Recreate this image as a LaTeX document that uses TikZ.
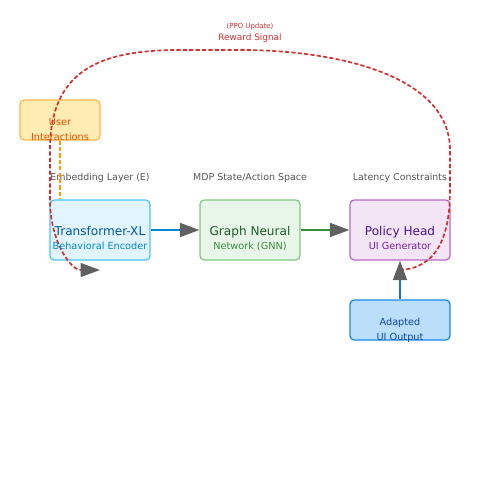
\documentclass[tikz,border=0pt]{standalone}
\usepackage{fontspec}
\setmainfont{DejaVu Sans}
\usetikzlibrary{arrows.meta}
\definecolor{uFill}{HTML}{FFECB3}\definecolor{uEdge}{HTML}{FFB74D}\definecolor{uText}{HTML}{E65100}
\definecolor{tFill}{HTML}{E1F5FE}\definecolor{tEdge}{HTML}{4FC3F7}\definecolor{tTitle}{HTML}{01579B}\definecolor{tSub}{HTML}{0288D1}
\definecolor{gFill}{HTML}{E8F5E9}\definecolor{gEdge}{HTML}{81C784}\definecolor{gTitle}{HTML}{1B5E20}\definecolor{gSub}{HTML}{388E3C}
\definecolor{pFill}{HTML}{F3E5F5}\definecolor{pEdge}{HTML}{BA68C8}\definecolor{pTitle}{HTML}{4A148C}\definecolor{pSub}{HTML}{7B1FA2}
\definecolor{aFill}{HTML}{BBDEFB}\definecolor{aEdge}{HTML}{1E88E5}\definecolor{aText}{HTML}{0D47A1}
\definecolor{rewardRed}{HTML}{D32F2F}\definecolor{dashOrange}{HTML}{FF9800}
\definecolor{headGray}{HTML}{606060}\definecolor{labGray}{HTML}{555555}
\definecolor{lineBlue}{HTML}{0288D1}\definecolor{lineBlue2}{HTML}{1976D2}\definecolor{lineGreen}{HTML}{388E3C}
\tikzset{
  box/.style={rounded corners=3pt, line width=0.9pt, inner sep=0pt},
  txt/.style={anchor=base, inner sep=0pt},
  tag/.style={txt, font=\fontsize{6.8}{8}\selectfont, text=labGray},
  flow/.style={line width=1.4pt, -{Triangle[length=14pt,width=10pt,color=headGray]}},
  fb/.style={line width=1.2pt, dash pattern=on 3pt off 1.6pt}
}
\begin{document}
\begin{tikzpicture}[x=0.72pt,y=-0.72pt]
\useasboundingbox (0,0) rectangle (500,500);
% boxes
\node[box, draw=uEdge, fill=uFill, minimum width=57.6pt, minimum height=28.8pt] (user) at (60,120) {};
\node[box, draw=tEdge, fill=tFill, minimum width=72pt, minimum height=43.2pt] (trans) at (100,230) {};
\node[box, draw=gEdge, fill=gFill, minimum width=72pt, minimum height=43.2pt] (gnn) at (250,230) {};
\node[box, draw=pEdge, fill=pFill, minimum width=72pt, minimum height=43.2pt] (pol) at (400,230) {};
\node[box, draw=aEdge, fill=aFill, minimum width=72pt, minimum height=28.8pt] (ada) at (400,320) {};
% feedback curve
\coordinate (fbStart) at (400,270);
\coordinate (fbEnd) at (100,270);
\draw[fb, draw=rewardRed, -{Triangle[length=14pt,width=10pt,color=headGray]}]
  (fbStart) .. controls (435,268) and (450,240) .. (450,190)
  -- (450,150) .. controls (450,80) and (350,52) .. (250,50)
  -- (180,50) .. controls (100,50) and (50,70) .. (50,150)
  -- (50,200) .. controls (50,240) and (70,270) .. (fbEnd);
% texts
\node[txt, text=uText, font=\fontsize{7}{8}\selectfont] (userA) at (60,125) {User};
\node[txt, text=uText, font=\fontsize{7}{8}\selectfont] (userB) at (60,140) {Interactions};
\node[txt, text=tTitle, font=\fontsize{8.7}{10}\selectfont] (transA) at (100,235.5) {Transformer-XL};
\node[txt, text=tSub, font=\fontsize{7}{8}\selectfont] (transB) at (100,249.5) {Behavioral Encoder};
\node[txt, text=gTitle, font=\fontsize{8.7}{10}\selectfont] (gnnA) at (250,235.5) {Graph Neural};
\node[txt, text=gSub, font=\fontsize{7}{8}\selectfont] (gnnB) at (250,249.5) {Network (GNN)};
\node[txt, text=pTitle, font=\fontsize{8.7}{10}\selectfont] (polA) at (400,235.5) {Policy Head};
\node[txt, text=pSub, font=\fontsize{7}{8}\selectfont] (polB) at (400,249.5) {UI Generator};
\node[txt, text=aText, font=\fontsize{7}{8}\selectfont] (adaA) at (400,325) {Adapted};
\node[txt, text=aText, font=\fontsize{7}{8}\selectfont] (adaB) at (400,340) {UI Output};
\node[tag] (lab1) at (100,180) {Embedding Layer (E)};
\node[tag] (lab2) at (250,180) {MDP State/Action Space};
\node[tag] (lab3) at (400,180) {Latency Constraints};
\node[txt, text=rewardRed, font=\fontsize{5}{6}\selectfont] (ppo) at (250,28.5) {(PPO Update)};
\node[txt, text=rewardRed, font=\fontsize{6.4}{8}\selectfont] (rew) at (250,40) {Reward Signal};
% connectors
\draw[flow, draw=lineBlue] (trans.east) -- (gnn.west);
\draw[flow, draw=lineGreen] (gnn.east) -- (pol.west);
\draw[flow, draw=lineBlue2] (ada.north) -- (pol.south);
\draw[fb, draw=dashOrange] (user.south) -- (trans.north -| user.south);
\end{tikzpicture}
\end{document}
